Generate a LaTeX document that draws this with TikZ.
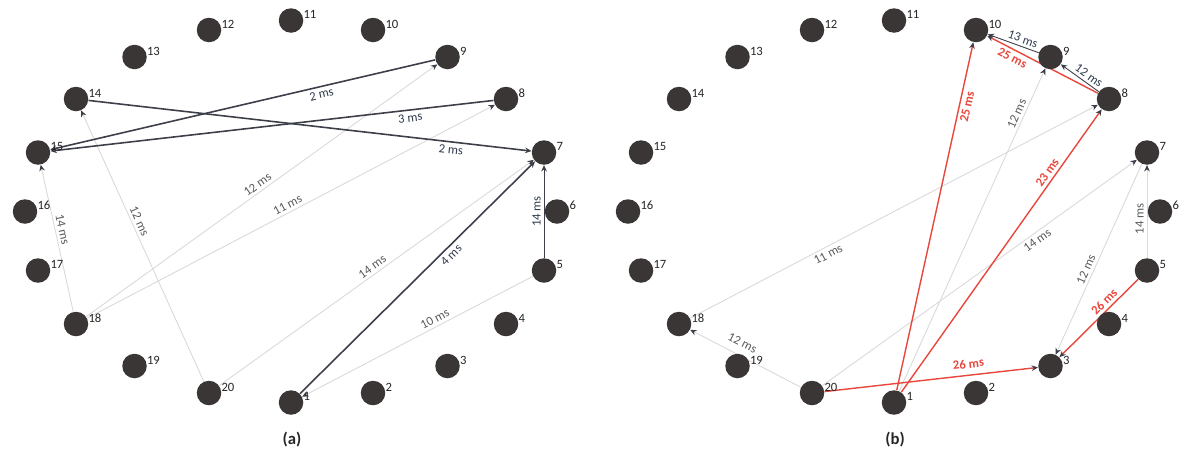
\documentclass[tikz,border=0pt]{standalone}
\usepackage{fontspec}
\setmainfont{Carlito}
\setsansfont{Carlito}
\usepackage{tikz}
\usetikzlibrary{arrows.meta,backgrounds}
\usepackage{xcolor}
\definecolor{nodeink}{HTML}{3B3636}
\definecolor{linkdark}{HTML}{3C3F4A}
\definecolor{linklight}{HTML}{D9D9D9}
\definecolor{linkred}{HTML}{E8473D}
\definecolor{labdark}{HTML}{2F3B4C}
\definecolor{labgray}{HTML}{5A5A5A}

\begin{document}
\begin{tikzpicture}[
    >={Stealth[length=3.6pt, width=3.2pt, color=linkdark]},
    font=\sffamily\fontsize{7.2}{8}\selectfont,
    % station: dark disc, its number sits up and to the right
    stn/.style={circle, fill=nodeink, minimum size=4.9mm, inner sep=0pt,
                label={[anchor=west, inner sep=0.6pt, text=black!85]28:#1}},
    % links: used ones dark, unused ones faint, the critical path red
    hop/.style ={->, line width=0.9pt, draw=linkdark},
    idle/.style={->, line width=0.5pt, draw=linklight},
    crit/.style={->, line width=0.8pt, draw=linkred},
    dly/.style ={sloped, inner sep=1.6pt, text=labdark},
    dlyg/.style={dly, text=labgray},
    dlyr/.style={dly, text=linkred, font=\sffamily\bfseries\fontsize{7.2}{8}\selectfont},
    panelcap/.style={font=\sffamily\bfseries\fontsize{9.5}{10}\selectfont, text=black!85},
]
\useasboundingbox (0,0) rectangle (23.74,9.02);

%================= panel (a) : stations =================%
\node[stn=1]  (a1)  at (5.82,0.97)  {};
\node[stn=2]  (a2)  at (7.46,1.16)  {};
\node[stn=3]  (a3)  at (8.95,1.70)  {};
\node[stn=4]  (a4)  at (10.12,2.54) {};
\node[stn=5]  (a5)  at (10.88,3.61) {};
\node[stn=6]  (a6)  at (11.14,4.79) {};
\node[stn=7]  (a7)  at (10.88,5.97) {};
\node[stn=8]  (a8)  at (10.12,7.04) {};
\node[stn=9]  (a9)  at (8.95,7.88)  {};
\node[stn=10] (a10) at (7.46,8.42)  {};
\node[stn=11] (a11) at (5.82,8.61)  {};
\node[stn=12] (a12) at (4.18,8.42)  {};
\node[stn=13] (a13) at (2.69,7.88)  {};
\node[stn=14] (a14) at (1.52,7.04)  {};
\node[stn=15] (a15) at (0.76,5.97)  {};
\node[stn=16] (a16) at (0.50,4.79)  {};
\node[stn=17] (a17) at (0.76,3.61)  {};
\node[stn=18] (a18) at (1.52,2.54)  {};
\node[stn=19] (a19) at (2.69,1.70)  {};
\node[stn=20] (a20) at (4.18,1.16)  {};
\node[panelcap] (capa) at (5.84,0.22) {(a)};

%================= panel (b) : stations =================%
\node[stn=1]  (b1)  at (17.88,0.97) {};
\node[stn=2]  (b2)  at (19.52,1.16) {};
\node[stn=3]  (b3)  at (21.01,1.70) {};
\node[stn=4]  (b4)  at (22.18,2.54) {};
\node[stn=5]  (b5)  at (22.94,3.61) {};
\node[stn=6]  (b6)  at (23.20,4.79) {};
\node[stn=7]  (b7)  at (22.94,5.97) {};
\node[stn=8]  (b8)  at (22.18,7.04) {};
\node[stn=9]  (b9)  at (21.01,7.88) {};
\node[stn=10] (b10) at (19.52,8.42) {};
\node[stn=11] (b11) at (17.88,8.61) {};
\node[stn=12] (b12) at (16.24,8.42) {};
\node[stn=13] (b13) at (14.75,7.88) {};
\node[stn=14] (b14) at (13.58,7.04) {};
\node[stn=15] (b15) at (12.82,5.97) {};
\node[stn=16] (b16) at (12.56,4.79) {};
\node[stn=17] (b17) at (12.82,3.61) {};
\node[stn=18] (b18) at (13.58,2.54) {};
\node[stn=19] (b19) at (14.75,1.70) {};
\node[stn=20] (b20) at (16.24,1.16) {};
\node[panelcap] (capb) at (17.90,0.22) {(b)};

\begin{scope}[on background layer]
%================= panel (a) : links =================%
\draw[idle] (a18) -- (a9)  node[dlyg, pos=0.50, above] {12 ms};
\draw[idle] (a18) -- (a8)  node[dlyg, pos=0.50, above] {11 ms};
\draw[idle] (a20) -- (a14) node[dlyg, pos=0.58, above] {12 ms};
\draw[idle] (a18) -- (a15) node[dlyg, pos=0.55, above] {14 ms};
\draw[idle] (a20) -- (a7)  node[dlyg, pos=0.50, above] {14 ms};
\draw[idle] (a5)  -- (a1)  node[dlyg, pos=0.41, above] {10 ms};
\draw[hop] (a9)  -- (a15) node[dly, pos=0.30, below] {2 ms};
\draw[hop] (a8)  -- (a15) node[dly, pos=0.19, below] {3 ms};
\draw[hop] (a14) -- (a7)  node[dly, pos=0.82, below] {2 ms};
\draw[hop] (a1)  -- (a7)  node[dly, pos=0.62, below] {4 ms};
\draw[hop, line width=0.5pt] (a5) -- (a7) node[dly, midway, above] {14 ms};

%================= panel (b) : links, critical path in red =================%
\draw[idle] (b20) -- (b18) node[dlyg, pos=0.58, above=3pt] {12 ms};
\draw[idle] (b18) -- (b8)  node[dlyg, pos=0.33, below] {11 ms};
\draw[idle] (b20) -- (b7)  node[dlyg, pos=0.67, below] {14 ms};
\draw[idle] (b1)  -- (b9)  node[dlyg, pos=0.85, above] {12 ms};
\draw[idle] (b7)  -- (b3)  node[dlyg, pos=0.57, above] {12 ms};
\draw[idle] (b5)  -- (b7)  node[dlyg, pos=0.42, above] {14 ms};
\draw[hop, line width=0.5pt] (b9) -- (b10) node[dly, pos=0.36, above] {13 ms};
\draw[hop, line width=0.5pt] (b8) -- (b9)  node[dly, pos=0.37, above] {12 ms};
\draw[crit] (b1)  -- (b10) node[dlyr, pos=0.82, below] {25 ms};
\draw[crit] (b1)  -- (b8)  node[dlyr, pos=0.76, above] {23 ms};
\draw[crit] (b20) -- (b3)  node[dlyr, pos=0.68, above=2pt] {26 ms};
\draw[crit] (b5)  -- (b3)  node[dlyr, pos=0.36, above] {26 ms};
\draw[crit] (b8)  -- (b10) node[dlyr, pos=0.74, below] {25 ms};
\end{scope}

\end{tikzpicture}
\end{document}
